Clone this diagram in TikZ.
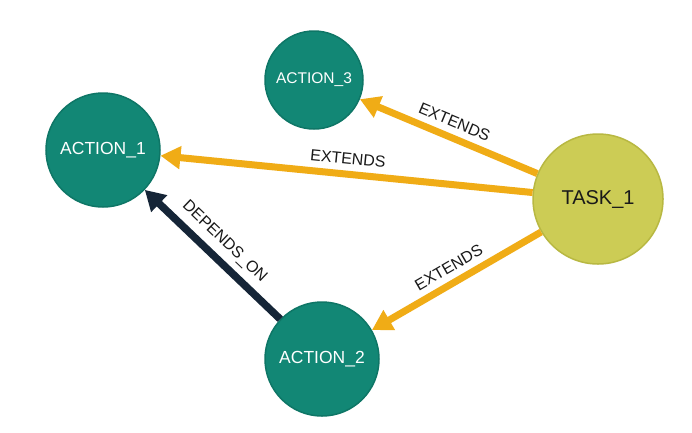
\documentclass[tikz,border=0pt]{standalone}
\usepackage{fontspec}
\setsansfont{Liberation Sans}
\usepackage{xcolor}
\usetikzlibrary{arrows.meta, positioning}
\definecolor{actioncolor}{RGB}{18, 135, 117}
\definecolor{actionborder}{RGB}{14, 118, 102}
\definecolor{taskcolor}{RGB}{204, 204, 85}
\definecolor{taskborder}{RGB}{184, 184, 66}
\definecolor{extendcolor}{RGB}{240, 172, 22}
\definecolor{dependcolor}{RGB}{21, 37, 55}

\begin{document}
\begin{tikzpicture}[
  x=1pt, y=-1pt,
  font=\sffamily,
  action/.style={circle, draw=actionborder, fill=actioncolor, line width=1.5pt, text=white, inner sep=0pt},
  task/.style={circle, draw=taskborder, fill=taskcolor, line width=1.5pt, text=black!90, inner sep=0pt},
  extends/.style={draw=extendcolor, line width=7pt, -{Triangle[length=20pt,width=22pt]}},
  dependson/.style={draw=dependcolor, line width=7.5pt, -{Triangle[length=20pt,width=22pt]}},
  rellabel/.style={font=\sffamily\fontsize{16}{18}\selectfont, text=black!90, sloped, above=3pt, pos=0.5}
]
\useasboundingbox (0,0) rectangle (692,432);
\fill[white] (0,0) rectangle (692,432);

\node[action, minimum size=98pt, font=\sffamily\fontsize{15.5}{17}\selectfont] (action3) at (314,80) {ACTION\_3};
\node[action, minimum size=114pt, font=\sffamily\fontsize{17.5}{19}\selectfont] (action1) at (103,150) {ACTION\_1};
\node[action, minimum size=114pt, font=\sffamily\fontsize{17.5}{19}\selectfont] (action2) at (322,359) {ACTION\_2};
\node[task, minimum size=130pt, font=\sffamily\fontsize{20}{22}\selectfont] (task1) at (598,199) {TASK\_1};

% relations
\draw[extends] (task1) -- node[rellabel] {EXTENDS} (action3);
\draw[extends] (task1) -- node[rellabel] {EXTENDS} (action1);
\draw[extends] (task1) -- node[rellabel] {EXTENDS} (action2);
\draw[dependson] (action2) -- node[rellabel] {DEPENDS\_ON} (action1);

\end{tikzpicture}
\end{document}
